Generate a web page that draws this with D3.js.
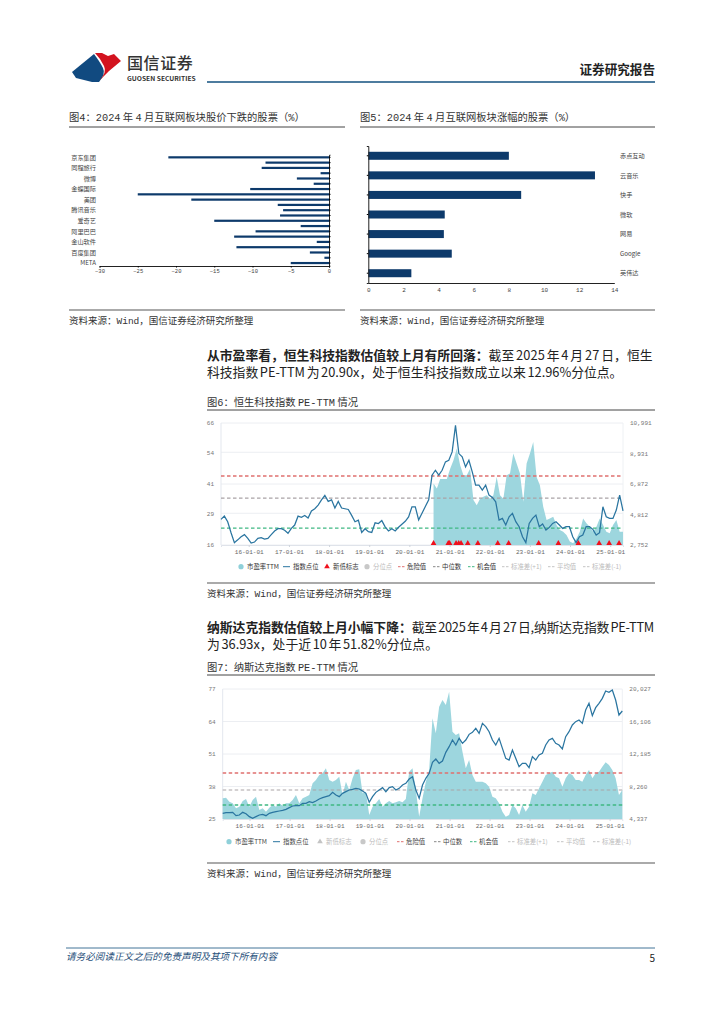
<!DOCTYPE html>
<html>
<head>
<meta charset="utf-8">
<script src="https://cdn.jsdelivr.net/npm/d3@7"></script>
<style>
  html, body { margin: 0; background: #fff; }
  text { font-family: "Liberation Mono", "Noto Sans CJK SC", monospace; }
  .sans, .sans text { font-family: "Noto Sans CJK SC", sans-serif; }
</style>
</head>
<body>
<svg id="page" width="724" height="1024"></svg>
<script>
/* fig 4 */
const fallNames = ["京东集团", "", "同程旅行", "", "微博", "", "金蝶国际", "", "美团", "", "腾讯音乐", "", "爱奇艺", "", "阿里巴巴", "", "金山软件", "", "百度集团", "", "META"];
const fallValues = [-21, -8.3, -8.8, -1.1, -4.2, -2, -10.3, -25, -18, -6.7, -6, -6.4, -15, -3.7, -9.6, -12.4, -1.6, -12.1, -2.5, -0.6, -5];

/* fig 5 */
const riseNames = ["赤点互动", "云音乐", "快手", "微软", "网易", "Google", "英伟达"];
const riseValues = [8, 12.9, 8.7, 4.35, 4.3, 4.75, 2.45];

/* fig 6 */
const hsIndex = [4481, 4705, 4324, 3583, 2909, 3100, 3313, 3450, 3200, 2880, 2950, 3200, 3250, 3150, 3200, 3450, 3700, 3850, 3850, 3750,
  3540, 3880, 4100, 4700, 4620, 4750, 4570, 5050, 5200, 5450, 5800, 6100, 5700, 5800, 5250, 5700, 5250, 5200, 5150, 4750,
  4320, 4430, 3600, 3850, 3650, 3600, 4250, 4200, 4400, 3980, 3700, 3850, 3700, 3950, 4150, 4350, 4650, 5330, 5330, 4450,
  4900, 5350, 5800, 7467, 7800, 7467, 7800, 8365, 8477, 9038, 10834, 8926, 8700, 8028, 8477, 7690, 6793, 6793, 6456, 6793,
  6120, 5962, 5670, 4436, 4548, 4099, 4660, 4885, 4324, 3987, 3313, 2909, 4211, 4548, 4773, 3987, 4166, 3762, 3942, 4211,
  4324, 4099, 3875, 3987, 3987, 3313, 2909, 3313, 3426, 3987, 3987, 3807, 3426, 3583, 5334, 4660, 4548, 4548, 5109, 6120, 5064];
const hsPe = [41.2, 39.2, 43, 43, 43, 47.3, 50.7, 55.5, 48.7, 44.6, 44.6, 47.3, 34.4, 32.3, 35, 35.8, 36.4, 35, 36.4, 43.9,
  36.4, 35, 44.6, 45.3, 53.5, 49.4, 45.3, 33.7, 49.4, 53.5, 58.2, 43.9, 40.5, 31.7, 26.2, 26.9, 27.6, 24.2, 22.1, 21.4,
  20.1, 17.4, 16.7, 18.7, 21.4, 26.9, 24.9, 23.5, 21.4, 23.5, 26.9, 24.2, 21.4, 20.8, 24.2, 26.2, 21.4, 21.4];
const hsLows = ["2020-08-08", "2020-12-20", "2021-01-01", "2021-03-01", "2021-03-25", "2021-04-15", "2021-06-15", "2021-09-15",
  "2022-03-15", "2022-06-22", "2023-03-22", "2023-09-17", "2024-03-17", "2024-09-22", "2024-12-22", "2025-03-22"];
const hsPeTicks = [16, 29, 41, 54, 66];
const hsIndexTicks = ["2,752", "4,812", "6,872", "8,931", "10,991"];
const hsLevels = [44.3, 35.2, 22.9];

/* fig 7 */
const ndxIndex = [5021, 5100, 5100, 5142, 4739, 4820, 5142, 4981, 4619, 4417, 4619, 4820, 4900, 4739, 5021, 5142, 5222, 5303, 5383, 5504,
  5705, 5906, 5946, 5946, 6228, 6228, 6429, 6308, 6509, 6751, 6912, 7032, 7153, 7555, 7233, 7032, 7435, 7636, 7837, 7918,
  8038, 7958, 7716, 7435, 6349, 7032, 7555, 7837, 8119, 7636, 8119, 8239, 7837, 8038, 8440, 8641, 9165, 9446, 7837, 6831,
  8440, 9245, 9849, 11176, 11578, 11055, 11337, 12383, 13067, 13871, 13268, 14073, 13469, 13871, 14555, 14797, 15280, 14676, 15883, 15481,
  14877, 13871, 13268, 14073, 12866, 11659, 11458, 12665, 11659, 10653, 11055, 11055, 10532, 11860, 11458, 12061, 12263, 13268, 13871, 14073,
  13469, 13268, 12785, 14274, 14877, 15683, 16084, 16285, 15883, 17493, 18297, 16808, 17774, 18297, 18900, 19785, 19624, 19906, 18699, 16889, 17371];
const ndxPe = [33.3, 33.5, 31.9, 31.3, 29.3, 29.9, 32.2, 33, 29.9, 32.6, 33.9, 28.6, 29.3, 27.9, 29.5, 30.6, 29.9, 31.3, 30.3, 31.3,
  31.3, 32.6, 34.6, 31.3, 33.3, 33.9, 34.6, 39.3, 40.6, 42.6, 43.3, 45.3, 40.6, 39.9, 40.6, 41.9, 34.6, 39.9, 36.6, 41.3,
  44.6, 44.9, 35.3, 35.9, 26.6, 29.9, 31.3, 33, 29.9, 31.3, 32.2, 31.3, 31.7, 32.2, 31.7, 33, 43.9, 45.3, 36.6, 25.9,
  33.3, 39.9, 44.6, 65.3, 59.3, 69.9, 72.6, 70.6, 75.9, 59.9, 58.6, 59.3, 51.9, 45.3, 48.6, 42.6, 39.9, 39.9, 39.9, 39.3,
  37.9, 33.9, 33.3, 31.3, 27.9, 25.9, 26.6, 30.6, 29.3, 26.6, 30.6, 27.9, 29.9, 35.3, 34.6, 37.3, 39.9, 42.6, 43.3, 43.9,
  41.9, 41.3, 37.9, 41.3, 43.3, 42.6, 40.6, 40.6, 39.9, 42.6, 44.6, 41.3, 43.3, 43.9, 45.9, 47.7, 46.6, 44.6, 41.3, 34.6, 36.6];
const ndxPeTicks = [25, 38, 51, 64, 77];
const ndxIndexTicks = ["4,337", "8,260", "12,185", "16,106", "20,027"];
const ndxLevels = [43.4, 36.6, 30.6];

const legendNames = ["市盈率TTM", "指数点位", "新低标志", "分位点", "危险值", "中位数", "机会值", "标准差(+1)", "平均值", "标准差(-1)"];

const svg = d3.select("#page");
const parseDay = d3.timeParse("%Y-%m-%d");
const inkBlue = "#0d3a6b";

function addText(x, y, str, size, opts = {}) {
    return svg.append("text")
        .attr("x", x).attr("y", y)
        .attr("font-size", size)
        .attr("fill", opts.fill || "#222")
        .attr("font-weight", opts.weight || "normal")
        .attr("font-style", opts.style || "normal")
        .attr("text-anchor", opts.anchor || "start")
        .attr("class", opts.cls || null)
        .text(str);
}

function addRule(x1, x2, y, color, width) {
    svg.append("line").attr("x1", x1).attr("x2", x2).attr("y1", y).attr("y2", y)
        .attr("stroke", color).attr("stroke-width", width);
}

function figureFrame(x1, x2, title, titleY, topY, bottomY) {
    addText(x1, titleY, title, 10.3, { fill: "#333" }).attr("word-spacing", -3.8);
    addRule(x1, x2, topY, "#444", 1);
    addRule(x1, x2, bottomY, "#8e8e8e", 1.5);
    addText(x1, bottomY + 14, "资料来源：Wind，国信证券经济研究所整理", 9.5, { fill: "#333" });
}

/* header */
const logo = svg.append("g");
logo.append("path").attr("fill", "#114a80").attr("d", "M72 72 L94 54 Q100 62 103 68 Q106 74 99 82 L92 82 L76 78 Z");
logo.append("path").attr("fill", "#d3131f").attr("d", "M95 53 L102 53 L108 56 L114 54 L121 61 L109 71 L100 80 Q107 72 104 66 Q100 58 95 53 Z");
addText(127, 68.5, "国信证券", 16, { fill: "#333", weight: 500, cls: "sans" }).attr("letter-spacing", 0.6);
addText(127, 81, "GUOSEN SECURITIES", 6.7, { fill: "#333", weight: 700, cls: "sans" });
addRule(207, 655, 82, "#12507f", 1.6);
addText(655, 74, "证券研究报告", 12.6, { fill: "#222", weight: 700, anchor: "end", cls: "sans" });

/* footer */
addRule(66, 655, 948, "#12507f", 0.8);
addText(66, 960, "请务必阅读正文之后的免责声明及其项下所有内容", 9.6, { fill: "#1f4f7a", style: "italic", cls: "sans" });
addText(655, 962, "5", 10, { anchor: "end", cls: "sans" });

/* fig 4 */
figureFrame(69, 345, "图4：2024 年 4 月互联网板块股价下跌的股票（%）", 121, 127, 310);
const fallX = d3.scaleLinear().domain([-30, 0]).range([99.5, 329]);
const fallY = d3.scaleBand().domain(d3.range(fallValues.length)).range([154.7, 265.7]);

svg.append("g").selectAll("rect").data(fallValues).enter().append("rect")
    .attr("x", d => fallX(d))
    .attr("y", (d, i) => fallY(i) + fallY.bandwidth() / 2 - 1.1)
    .attr("width", d => fallX(0) - fallX(d))
    .attr("height", 2.2)
    .attr("fill", inkBlue);

const fallAxisX = svg.append("g").attr("transform", "translate(0,266)")
    .call(d3.axisBottom(fallX).tickValues([-30, -25, -20, -15, -10, -5, 0]).tickSize(1.5).tickPadding(2));
fallAxisX.select(".domain").attr("stroke", "#222");
fallAxisX.selectAll("text").attr("font-size", 5.5).attr("fill", "#444").attr("font-family", "Noto Sans");

const fallAxisY = svg.append("g").attr("transform", "translate(329,0)")
    .call(d3.axisRight(fallY).tickFormat("").tickSize(1.5));
fallAxisY.select(".domain").attr("stroke", "#222").attr("stroke-width", 1);

svg.append("g").selectAll("text").data(fallNames).enter().append("text")
    .attr("class", "sans")
    .attr("x", 96)
    .attr("y", (d, i) => fallY(i) + fallY.bandwidth() / 2 + 2.2)
    .attr("text-anchor", "end")
    .attr("font-size", 6.2)
    .attr("fill", "#444")
    .text(d => d);

/* fig 5 */
figureFrame(360, 655, "图5：2024 年 4 月互联网板块涨幅的股票（%）", 121, 127, 310);
const riseX = d3.scaleLinear().domain([0, 14]).range([368.3, 614.3]);
const riseY = d3.scaleBand().domain(riseNames).range([146, 283]);

svg.append("g").selectAll("rect").data(riseValues).enter().append("rect")
    .attr("x", riseX(0))
    .attr("y", (d, i) => riseY(riseNames[i]) + riseY.bandwidth() / 2 - 4)
    .attr("width", d => riseX(d) - riseX(0))
    .attr("height", 8)
    .attr("fill", inkBlue);

const riseAxisX = svg.append("g").attr("transform", "translate(0,283)")
    .call(d3.axisBottom(riseX).tickValues(d3.range(0, 15, 2)).tickSize(0).tickPadding(5));
riseAxisX.select(".domain").attr("stroke", "#222");
riseAxisX.selectAll("text").attr("font-size", 6).attr("fill", "#444").attr("font-family", "Noto Sans");

const riseAxisY = svg.append("g").attr("transform", "translate(368.3,0)")
    .call(d3.axisLeft(riseY).tickFormat("").tickSize(1.5));
riseAxisY.select(".domain").attr("stroke", "#222");

svg.append("g").selectAll("text").data(riseNames).enter().append("text")
    .attr("class", "sans")
    .attr("x", 620)
    .attr("y", d => riseY(d) + riseY.bandwidth() / 2 + 2.2)
    .attr("font-size", 6.2)
    .attr("fill", "#444")
    .text(d => d);

/* paragraphs */
function addLead(x, y, lead, rest, tracking) {
    const t = svg.append("text").attr("class", "sans").attr("x", x).attr("y", y)
        .attr("font-size", 12.8).attr("fill", "#222").attr("word-spacing", -1.2);
    t.append("tspan").attr("font-weight", 700).text(lead);
    t.append("tspan").attr("letter-spacing", tracking).text(rest);
}
addLead(207, 360, "从市盈率看，恒生科技指数估值较上月有所回落：", "截至 2025 年 4 月 27 日，恒生", 0.1);
addText(207, 377, "科技指数 PE-TTM 为 20.90x，处于恒生科技指数成立以来 12.96%分位点。", 12.8, { cls: "sans" }).attr("word-spacing", -1.2);
addLead(207, 632, "纳斯达克指数估值较上月小幅下降：", "截至 2025 年 4 月 27 日,纳斯达克指数 PE-TTM", -0.27);
addText(207, 649, "为 36.93x，处于近 10 年 51.82%分位点。", 12.8, { cls: "sans" }).attr("word-spacing", -1.2);

/* fig 6 + fig 7 share one drawing routine */
function drawValuation(cfg) {
    const { left, right, top, bottom } = cfg;
    const x = d3.scaleTime().domain([cfg.startDate, cfg.endDate]).range([left, right]);
    const yPe = d3.scaleLinear().domain(d3.extent(cfg.peTicks)).range([bottom, top]);
    const yIdx = d3.scaleLinear()
        .domain([+cfg.indexTicks[0].replace(/,/g, ""), +cfg.indexTicks[cfg.indexTicks.length - 1].replace(/,/g, "")])
        .range([bottom, top]);
    const g = svg.append("g");

    g.append("g").selectAll("line").data(cfg.peTicks).enter().append("line")
        .attr("x1", left).attr("x2", right)
        .attr("y1", d => yPe(d)).attr("y2", d => yPe(d))
        .attr("stroke", "#eceef2").attr("stroke-width", 1);
    g.append("line").attr("x1", left).attr("x2", left).attr("y1", top).attr("y2", bottom)
        .attr("stroke", "#e3e7ee");
    g.append("line").attr("x1", right).attr("x2", right).attr("y1", top).attr("y2", bottom)
        .attr("stroke", "#eef1f4");

    // evenly spaced readings between the first and last date of each series
    const spread = (values, from) => values.map((v, i) => ({
        date: new Date(+from + i * (cfg.endDate - from) / (values.length - 1)), v
    }));

    const area = d3.area().x(d => x(d.date)).y0(bottom).y1(d => yPe(d.v));
    g.append("path").datum(spread(cfg.pe, cfg.peStart)).attr("d", area).attr("fill", "#9dd6de");

    const levelColors = ["#e0706f", "#a9a3a6", "#3fb883"];
    const levelWidths = [1.5, 1.1, 1.3];
    g.append("g").selectAll("line").data(cfg.levels).enter().append("line")
        .attr("x1", left).attr("x2", right)
        .attr("y1", d => yPe(d)).attr("y2", d => yPe(d))
        .attr("stroke", (d, i) => levelColors[i])
        .attr("stroke-width", (d, i) => levelWidths[i])
        .attr("stroke-dasharray", "3.5,2.5");

    const line = d3.line().x(d => x(d.date)).y(d => yIdx(d.v));
    g.append("path").datum(spread(cfg.index, cfg.startDate)).attr("d", line)
        .attr("fill", "none").attr("stroke", "#2a75a0").attr("stroke-width", 1.25);

    g.append("g").selectAll("path").data(cfg.lows).enter().append("path")
        .attr("d", d3.symbol(d3.symbolTriangle, 14))
        .attr("transform", d => `translate(${x(parseDay(d))},${bottom - 1.6})`)
        .attr("fill", "#f0101c");

    const axisX = g.append("g").attr("transform", `translate(0,${bottom})`)
        .call(d3.axisBottom(x).ticks(d3.timeYear.every(1)).tickFormat(d3.timeFormat("%y-%m-%d")).tickSize(2).tickPadding(3));
    axisX.select(".domain").attr("stroke", "#dfe3ea");
    axisX.selectAll("line").attr("stroke", "#cfd4dc");
    axisX.selectAll("text").attr("font-size", 6).attr("fill", "#666").attr("font-family", "Noto Sans");

    const axisL = g.append("g").attr("transform", `translate(${left},0)`)
        .call(d3.axisLeft(yPe).tickValues(cfg.peTicks).tickSize(0).tickPadding(7));
    axisL.select(".domain").remove();
    axisL.selectAll("text").attr("font-size", 6).attr("fill", "#777").attr("font-family", "Noto Sans");

    const axisR = g.append("g").attr("transform", `translate(${right},0)`)
        .call(d3.axisRight(yIdx)
            .tickValues(cfg.indexTicks.map(s => +s.replace(/,/g, "")))
            .tickFormat((d, i) => cfg.indexTicks[i]).tickSize(0).tickPadding(7));
    axisR.select(".domain").remove();
    axisR.selectAll("text").attr("font-size", 6).attr("fill", "#777").attr("font-family", "Noto Sans");

    // legend
    const leg = g.append("g");
    legendNames.forEach((name, i) => {
        const lx = cfg.legendX[i];
        const faded = i >= 7 || i === 3 || (i === 2 && cfg.lowsGrey);
        leg.append("text").attr("class", "sans").attr("x", lx).attr("y", cfg.legendY + 2.3)
            .attr("font-size", 6.4).attr("fill", faded ? "#bbb" : cfg.legendInk).text(name);
        const sx = lx - 8;
        if (i === 0) {
            leg.append("circle").attr("cx", lx - 6).attr("cy", cfg.legendY).attr("r", 2.6).attr("fill", "#8fd0d9");
        } else if (i === 1) {
            leg.append("line").attr("x1", sx - 2).attr("x2", sx + 5).attr("y1", cfg.legendY).attr("y2", cfg.legendY)
                .attr("stroke", "#2a75a0").attr("stroke-width", 1);
        } else if (i === 2) {
            leg.append("path").attr("d", d3.symbol(d3.symbolTriangle, 14))
                .attr("transform", `translate(${lx - 6},${cfg.legendY})`)
                .attr("fill", cfg.lowsGrey ? "#c4c4c4" : "#f0101c");
        } else if (i === 3) {
            leg.append("circle").attr("cx", lx - 6).attr("cy", cfg.legendY).attr("r", 2.6).attr("fill", "#c8c8c8");
        } else {
            const dashColor = { 4: "#e0706f", 5: "#888", 6: "#3fb883" }[i] || "#c4c4c4";
            leg.append("line").attr("x1", sx - 1).attr("x2", sx + 6).attr("y1", cfg.legendY).attr("y2", cfg.legendY)
                .attr("stroke", dashColor).attr("stroke-width", 1).attr("stroke-dasharray", "2.5,1.5");
        }
    });
}

figureFrame(207, 655, "图6：恒生科技指数 PE-TTM 情况", 406, 410, 583);
drawValuation({
    left: 221, right: 623, top: 423, bottom: 545,
    startDate: parseDay("2015-04-24"), endDate: parseDay("2025-04-27"), peStart: parseDay("2020-08-08"),
    index: hsIndex, pe: hsPe, lows: hsLows, peTicks: hsPeTicks, indexTicks: hsIndexTicks, levels: hsLevels,
    legendY: 566.7, legendInk: "#333", lowsGrey: false,
    legendX: [247, 293, 333, 373, 407, 442, 477, 511, 557, 592]
});

figureFrame(207, 655, "图7：纳斯达克指数 PE-TTM 情况", 671, 675, 863);
drawValuation({
    left: 222.7, right: 622.3, top: 689, bottom: 819,
    startDate: parseDay("2015-05-01"), endDate: parseDay("2025-04-27"), peStart: parseDay("2015-05-01"),
    index: ndxIndex, pe: ndxPe, lows: [], peTicks: ndxPeTicks, indexTicks: ndxIndexTicks, levels: ndxLevels,
    legendY: 841.7, legendInk: "#444", lowsGrey: true,
    legendX: [235, 283, 326, 369, 406, 443, 479, 517, 566, 602]
});
</script>
</body>
</html>
